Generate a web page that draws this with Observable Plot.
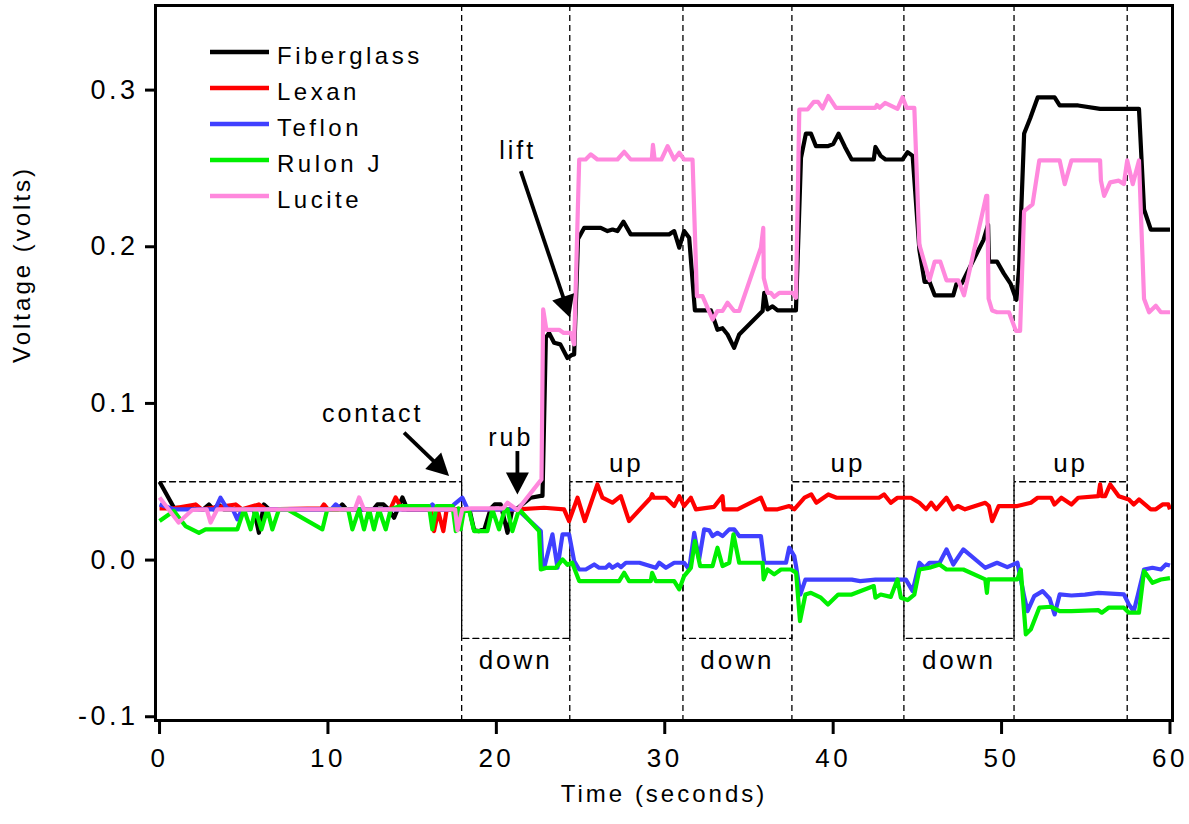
<!DOCTYPE html>
<html><head><meta charset="utf-8">
<script src="https://cdn.jsdelivr.net/npm/d3@7"></script>
<script src="https://cdn.jsdelivr.net/npm/@observablehq/plot@0.6"></script>
<style>
body{margin:0;background:#fff;}
#wrap{position:relative;width:1189px;height:824px;}
#wrap svg text{letter-spacing:3px;}
</style></head>
<body><div id="wrap"></div>
<script>
// ---------- data ----------
const seriesNames = ["Fiberglass","Lexan","Teflon","Rulon J","Lucite"];
const seriesColors = ["#000000","#ff0000","#4040ff","#00f000","#ff88dd"];

const fiberglassT = [0,0.85,2.6,2.93,3.2,3.5,3.8,5.6,5.9,6.2,6.5,10.6,10.85,11.1,12.7,12.93,13.3,13.6,13.93,14.42,14.72,17.6,18.0,18.4,18.68,18.97,19.3,19.67,19.9,20.26,20.66,20.95,21.25,22.04,22.64,22.74,22.94,23.13,23.43,23.8,24.22,24.5,24.62,24.85,25.21,26.2,26.6,26.9,27.19,27.55,27.98,30.26,30.56,30.86,31.15,31.45,31.79,32.74,33.13,33.43,33.73,34.12,34.42,35.81,35.91,36.1,36.4,36.7,37.79,38.09,38.38,38.68,38.98,39.67,40.0,40.32,40.7,41.1,42.41,42.51,42.82,43.11,44.12,44.42,44.72,45.12,45.43,45.72,46.03,47.13,47.33,47.63,48.93,49.2,49.25,49.73,50.13,50.53,50.88,51.04,51.34,51.7,52.15,53.15,53.45,54.55,55.85,58.16,58.46,58.86,60];
const fiberglassV = [0.050,0.0335,0.0324,0.0355,0.0324,0.0355,0.0324,0.0324,0.0174,0.0355,0.0324,0.0324,0.0355,0.0324,0.0324,0.0355,0.0355,0.0324,0.027,0.040,0.0324,0.0324,0.0324,0.0324,0.019,0.0185,0.020,0.033,0.0355,0.0355,0.0174,0.0324,0.033,0.0398,0.041,0.041,0.142,0.145,0.1387,0.1377,0.129,0.131,0.1313,0.205,0.212,0.212,0.21,0.211,0.21,0.216,0.2079,0.2079,0.21,0.1994,0.21,0.2057,0.1594,0.1594,0.147,0.148,0.144,0.1355,0.144,0.159,0.1706,0.16,0.162,0.1594,0.1594,0.2568,0.2722,0.2722,0.2642,0.2642,0.2655,0.2722,0.2637,0.2557,0.2557,0.2637,0.258,0.2557,0.2557,0.2604,0.258,0.198,0.1776,0.1776,0.169,0.169,0.1765,0.1765,0.2044,0.2141,0.1905,0.1905,0.183,0.1765,0.1661,0.1866,0.2723,0.282,0.2954,0.2954,0.2902,0.2902,0.288,0.288,0.2238,0.211,0.211];

const lexanT = [0,0.85,2.14,2.5,4.52,4.9,5.9,6.3,9.6,9.76,10.0,13.7,14.02,14.4,16.1,16.3,16.55,16.85,17.05,21.25,22.83,24.02,24.32,24.82,25.25,26.0,26.3,26.89,27.39,27.88,29.17,29.25,29.35,30.07,30.56,30.86,31.15,31.55,31.85,32.93,33.43,33.5,34.32,35.71,36.0,36.7,37.39,37.69,38.3,38.7,39.0,39.71,40.2,42.72,43.02,43.42,43.82,44.62,45.12,45.52,45.82,46.12,46.73,47.13,47.4,47.83,49.03,49.25,49.44,49.83,50.94,51.74,52.14,52.94,53.14,53.55,54.15,54.55,55.75,55.85,55.95,56.15,56.45,56.96,57.56,57.85,58.16,58.86,59.16,59.56,59.9,60];
const lexanV = [0.033,0.033,0.0355,0.0324,0.0355,0.0324,0.0355,0.0324,0.033,0.0355,0.0324,0.0324,0.040,0.0324,0.0324,0.0185,0.031,0.0185,0.0324,0.0324,0.0334,0.0324,0.0249,0.0398,0.0249,0.0483,0.0398,0.0366,0.0408,0.0249,0.0398,0.042,0.0398,0.0398,0.0345,0.0408,0.0345,0.0398,0.0324,0.034,0.0408,0.0324,0.0324,0.0398,0.0324,0.0324,0.0345,0.0324,0.0398,0.0419,0.0366,0.0419,0.0398,0.0398,0.0419,0.0366,0.0398,0.0398,0.0366,0.0324,0.0366,0.0324,0.0398,0.0324,0.0345,0.0324,0.0366,0.0345,0.0249,0.0345,0.0345,0.0366,0.0398,0.0398,0.0355,0.0398,0.0355,0.0398,0.0408,0.0483,0.0408,0.0408,0.0483,0.0408,0.0387,0.0355,0.0387,0.0324,0.0324,0.0355,0.0355,0.0324];

const teflonT = [0,0.85,3.3,3.62,4.0,4.35,4.62,4.9,10.2,10.46,10.8,15.9,16.2,16.45,17.2,17.49,17.98,18.3,21.25,22.64,22.74,22.84,23.33,23.63,23.93,24.32,24.62,24.92,25.31,25.81,26.1,26.5,26.7,26.89,27.2,27.4,27.69,28.5,29.47,29.67,30.07,30.56,31.15,31.45,31.75,32.04,32.34,32.64,32.84,33.13,33.43,33.83,34.12,34.42,35.71,35.91,37.2,37.39,37.69,37.8,38.05,38.35,41.11,41.6,42.51,44.32,44.72,45.12,45.43,45.72,46.32,46.73,47.13,47.73,49.03,49.73,50.34,50.94,51.34,51.54,51.94,52.44,52.85,53.15,53.45,54.15,54.95,55.75,57.26,57.56,57.85,58.1,58.46,58.96,59.46,59.76,60];
const teflonV = [0.0355,0.0324,0.0324,0.0398,0.033,0.0324,0.026,0.0324,0.0324,0.0355,0.0324,0.0324,0.0355,0.0324,0.0324,0.0355,0.0398,0.0324,0.0324,0.0185,-0.005,-0.0049,0.0164,-0.0049,0.0164,0.0164,-0.0006,-0.006,-0.006,-0.0028,-0.0049,-0.0049,-0.0028,-0.0049,-0.0028,-0.0045,-0.0017,-0.0017,-0.0049,-0.0017,-0.0049,-0.0017,-0.0017,-0.006,0.0174,0.0004,0.0196,0.019,0.0153,0.0174,0.0153,0.0196,0.0196,0.0153,0.0153,-0.0017,-0.0017,0.0079,0.0026,-0.004,-0.022,-0.0125,-0.0125,-0.0134,-0.0125,-0.0125,-0.0198,-0.0017,-0.0049,-0.0017,-0.0017,0.0068,-0.0028,0.0068,-0.0049,-0.0017,-0.0045,-0.0017,-0.023,-0.0326,-0.023,-0.0198,-0.0245,-0.0347,-0.0219,-0.0226,-0.022,-0.0209,-0.0219,-0.0283,-0.0326,-0.022,-0.006,-0.0049,-0.006,-0.0028,-0.0035];

const rulonT = [0,0.85,1.54,2.34,2.73,4.62,5.02,5.41,5.7,6.05,6.4,6.7,7.09,7.59,9.67,9.96,11.2,11.45,11.85,12.14,12.44,12.73,13.03,13.43,13.73,14.3,16.0,16.2,16.45,17.4,17.59,17.75,17.88,18.08,18.4,18.68,19.47,19.76,20.16,20.5,20.66,20.95,21.35,22.54,22.64,22.94,23.53,23.93,24.22,24.5,24.92,27.29,27.59,27.88,29.17,29.25,29.47,30.56,30.86,31.15,31.55,31.79,32.1,32.84,33.13,33.43,33.83,34.08,34.42,35.81,35.87,36.1,36.5,36.9,37.49,37.8,38.03,38.35,38.68,39.27,39.69,40.3,41.1,42.41,42.51,42.82,43.42,43.82,44.02,44.42,44.82,45.12,45.72,46.32,46.73,47.73,49.03,49.13,49.2,50.94,51.14,51.44,51.74,52.24,52.94,53.45,54.15,55.75,55.95,56.35,57.26,57.56,58.16,58.46,58.96,59.46,60];
const rulonV = [0.0249,0.0313,0.0217,0.0174,0.0196,0.0196,0.0324,0.0196,0.0324,0.0196,0.0324,0.0196,0.0324,0.0324,0.0196,0.0324,0.0324,0.0196,0.0324,0.0196,0.0324,0.0196,0.0324,0.0196,0.0324,0.0345,0.0345,0.0196,0.0345,0.0345,0.0185,0.033,0.0196,0.0324,0.031,0.0185,0.0185,0.0324,0.0196,0.0324,0.0324,0.0185,0.0324,0.0185,-0.006,-0.005,-0.005,0.0004,-0.003,-0.0017,-0.0134,-0.0134,-0.0081,-0.0134,-0.0134,-0.0081,-0.0134,-0.0134,-0.0187,-0.0102,-0.005,0.0121,-0.0038,-0.0038,0.0079,-0.0038,-0.0017,0.0164,-0.0017,-0.0017,-0.0123,-0.006,-0.0091,-0.006,-0.006,-0.008,-0.0389,-0.022,-0.0209,-0.024,-0.0283,-0.022,-0.022,-0.0166,-0.024,-0.022,-0.0235,-0.0123,-0.024,-0.0255,-0.022,-0.006,-0.0049,-0.0028,-0.006,-0.006,-0.0123,-0.0209,-0.0123,-0.0123,-0.006,-0.0474,-0.0442,-0.0304,-0.0298,-0.0326,-0.0326,-0.032,-0.0336,-0.0304,-0.0304,-0.0336,-0.0336,-0.007,-0.0145,-0.0124,-0.0115];

const luciteT = [0,1.13,1.94,2.8,3.03,3.43,11.6,11.85,12.14,17.55,17.69,17.98,18.5,20.4,20.66,21.25,22.68,22.78,22.97,23.3,23.73,24.0,24.42,24.62,24.92,25.3,25.61,26.0,27.19,27.59,27.98,29.23,29.3,29.4,29.8,30.17,30.56,30.86,31.15,31.65,31.91,32.24,32.84,33.13,33.43,33.73,34.12,34.42,35.71,35.85,35.88,36.1,36.3,36.5,36.8,37.1,37.6,37.79,37.99,38.48,38.85,39.1,39.37,39.71,40.17,42.51,42.6,42.76,43.08,43.82,44.12,44.36,44.82,45.12,45.32,45.72,46.03,46.36,46.73,47.43,47.77,49.09,49.15,49.23,49.44,49.73,50.44,50.85,51.1,51.34,51.84,52.24,53.45,53.75,54.15,55.85,55.9,56.09,56.45,56.96,57.26,57.46,57.79,58.16,58.46,58.76,59.16,59.46,60];
const luciteV = [0.040,0.024,0.032,0.0324,0.024,0.0324,0.0324,0.040,0.0324,0.0324,0.019,0.0324,0.033,0.033,0.0366,0.032,0.0515,0.160,0.147,0.147,0.147,0.145,0.145,0.1377,0.2557,0.2557,0.259,0.2557,0.2557,0.2606,0.2557,0.2557,0.265,0.2557,0.2557,0.2642,0.2557,0.26,0.2557,0.2557,0.1685,0.1685,0.1536,0.159,0.159,0.1643,0.159,0.159,0.1994,0.212,0.18,0.1706,0.1706,0.168,0.1706,0.1706,0.1706,0.1674,0.2876,0.2876,0.2925,0.2925,0.2883,0.2962,0.2887,0.2887,0.2905,0.2887,0.2918,0.288,0.2954,0.2887,0.2887,0.2013,0.1937,0.1786,0.1905,0.1905,0.1786,0.1786,0.169,0.2325,0.2325,0.1668,0.1593,0.1582,0.1582,0.1463,0.1463,0.2228,0.2271,0.2551,0.2551,0.24,0.2551,0.2551,0.2422,0.2325,0.2411,0.2422,0.24,0.2551,0.24,0.2551,0.1668,0.1582,0.1624,0.1582,0.1582];

const xTicks = [0,10,20,30,40,50,60];
const yTicks = [-0.1,0,0.1,0.2,0.3];

// annotations (data coordinates)
const phaseBounds = [17.94,24.36,31.08,37.55,44.2,50.74,57.46];
const phaseLevels = [0.05,-0.05];
const phaseNames = ["down","up"];
const phaseLabelY = [-0.0645,0.0613];
const noteText = ["contact","rub","lift"];
const noteX = [12.66,20.86,21.27];
const noteY = [0.0932,0.0779,0.261];
const arrowX1 = [14.52,21.25,21.45];
const arrowY1 = [0.0813,0.0696,0.2483];
const arrowX2 = [16.85,21.25,24.23];
const arrowY2 = [0.0572,0.047,0.1595];

// ---------- build tables ----------
const seriesT = [fiberglassT,lexanT,teflonT,rulonT,luciteT];
const seriesV = [fiberglassV,lexanV,teflonV,rulonV,luciteV];
const rows = seriesNames.flatMap((name,k)=>seriesT[k].map((t,i)=>({series:name,t,v:seriesV[k][i]})));

const xMin = -0.24, xMax = 60.15;
const wave = [{t:0, v:phaseLevels[0]}];
phaseBounds.forEach((b,i)=>{
  const cur = phaseLevels[i%2], nxt = phaseLevels[(i+1)%2];
  wave.push({t:b,v:cur},{t:b,v:nxt});
});
wave.push({t:xMax, v:phaseLevels[phaseBounds.length%2]});
const phaseLabels = [];
for (let i=0;i+1<phaseBounds.length;i++){
  phaseLabels.push({t:(phaseBounds[i]+phaseBounds[i+1])/2, v:phaseLabelY[i%2], label:phaseNames[i%2]});
}
const notes = noteText.map((s,i)=>({s,x:noteX[i],y:noteY[i]}));
const arrows = arrowX1.map((x,i)=>({x1:x,y1:arrowY1[i],x2:arrowX2[i],y2:arrowY2[i]}));

function filledArrow(color, context){
  const ns="http://www.w3.org/2000/svg";
  const doc=(context&&context.document)||document;
  const m=doc.createElementNS(ns,"marker");
  m.setAttribute("viewBox","-15 -13 25 26");
  m.setAttribute("markerWidth","25");
  m.setAttribute("markerHeight","26");
  m.setAttribute("markerUnits","userSpaceOnUse");
  m.setAttribute("orient","auto");
  m.setAttribute("refX","0");m.setAttribute("refY","0");
  const p=doc.createElementNS(ns,"path");
  p.setAttribute("d","M-14,-11.5L8,0L-14,11.5Z");
  p.setAttribute("fill","black");p.setAttribute("stroke","none");
  m.appendChild(p);
  return m;
}

const font='"Liberation Sans", Arial, Helvetica, sans-serif';
function build(useMarker){
  const arrowMark = useMarker
    ? Plot.link(arrows,{x1:"x1",y1:"y1",x2:"x2",y2:"y2",stroke:"black",strokeWidth:3.8,markerEnd:filledArrow})
    : Plot.arrow(arrows,{x1:"x1",y1:"y1",x2:"x2",y2:"y2",stroke:"black",strokeWidth:3.8,headLength:22});
  return Plot.plot({
    width:1189,height:824,
    marginLeft:155,marginRight:17,marginTop:5,marginBottom:104,
    style:{fontFamily:font,fontSize:"24px",background:"white",color:"black",overflow:"visible"},
    x:{domain:[xMin,xMax]},
    y:{domain:[-0.1024,0.354]},
    color:{domain:seriesNames,range:seriesColors},
    marks:[
      Plot.ruleX(phaseBounds,{stroke:"black",strokeWidth:1.3,strokeDasharray:"6,4"}),
      Plot.line(wave,{x:"t",y:"v",stroke:"black",strokeWidth:1.3,strokeDasharray:"6,4"}),
      Plot.line(rows,{x:"t",y:"v",z:"series",stroke:"series",strokeWidth:4.2,strokeLinejoin:"round",strokeLinecap:"butt"}),
      Plot.frame({stroke:"black",strokeWidth:3}),
      Plot.axisX({ticks:xTicks,tickSize:14,tickPadding:14,strokeWidth:3,fontSize:26,label:null,tickFormat:d=>String(d)}),
      Plot.axisY({ticks:yTicks,tickSize:10,tickPadding:7,strokeWidth:3,fontSize:27,label:null,tickFormat:d=>d.toFixed(1)}),
      Plot.text(["Time (seconds)"],{text:d=>d,frameAnchor:"bottom",dy:81}),
      Plot.text(["Voltage (volts)"],{text:d=>d,frameAnchor:"left",dx:-133,rotate:-90}),
      Plot.text(phaseLabels,{x:"t",y:"v",text:"label",fontSize:26}),
      Plot.text(notes,{x:"x",y:"y",text:"s",fontSize:25}),
      arrowMark
    ]
  });
}
let chart;
try { chart = build(true); } catch(e){ chart = build(false); }
const wrap=document.getElementById("wrap");
wrap.appendChild(chart);
d3.select(chart).selectAll('g[aria-label="x-axis tick label"] text, g[aria-label="y-axis tick label"] text')
  .style("letter-spacing","3.5px");

// legend overlay
const leg=d3.select(wrap).append("svg").attr("width",460).attr("height",230)
  .style("position","absolute").style("left","0px").style("top","0px")
  .style("font-family",font).style("font-size","24px");
seriesNames.forEach((name,i)=>{
  const y=52+i*36;
  leg.append("line").attr("x1",210).attr("x2",269).attr("y1",y).attr("y2",y)
    .attr("stroke",seriesColors[i]).attr("stroke-width",4.5);
  leg.append("text").attr("x",277).attr("y",y+12).attr("fill","black")
    .style("letter-spacing","3.5px").text(name);
});
</script></body></html>
